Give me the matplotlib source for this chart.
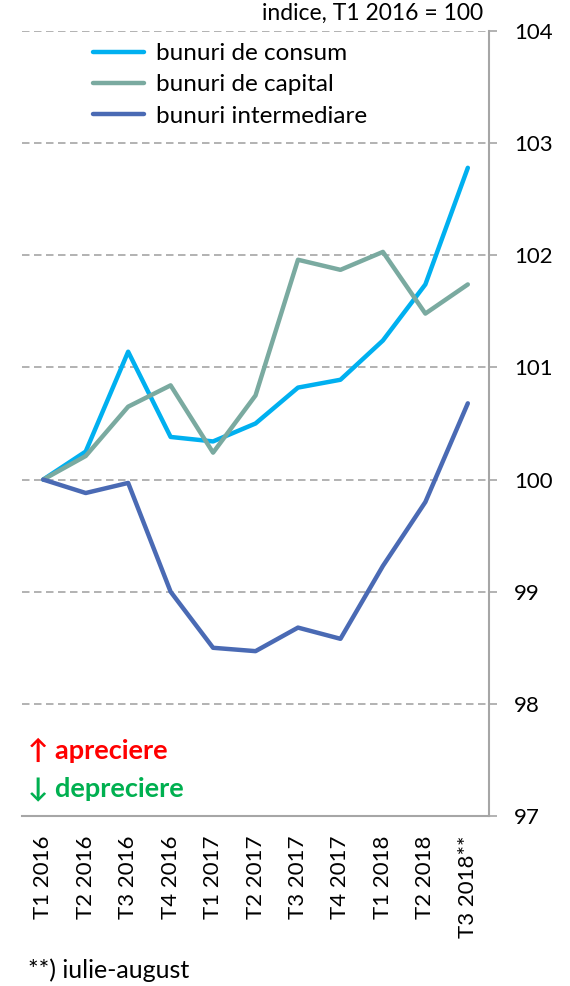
import numpy as np
import matplotlib.pyplot as plt

plt.rcParams['font.family'] = ['Lato', 'DejaVu Sans']

quarters = ['T1 2016', 'T2 2016', 'T3 2016', 'T4 2016', 'T1 2017', 'T2 2017',
            'T3 2017', 'T4 2017', 'T1 2018', 'T2 2018', 'T3 2018**']
consum = [100.0, 100.25, 101.14, 100.38, 100.34, 100.5, 100.82, 100.89, 101.24, 101.74, 102.78]
capital = [100.0, 100.21, 100.65, 100.84, 100.24, 100.75, 101.96, 101.87, 102.03, 101.48, 101.74]
intermediare = [100.0, 99.88, 99.97, 99.0, 98.5, 98.47, 98.68, 98.58, 99.23, 99.8, 100.68]

fig = plt.figure(figsize=(5.7, 9.86), dpi=100)
ax = fig.add_axes([0.0386, 0.1724, 0.8194, 0.7962])

x = np.arange(len(quarters))
ax.plot(x, consum, color='#00B0F0', lw=3.2, label='bunuri de consum', solid_capstyle='round')
ax.plot(x, capital, color='#7AAAA0', lw=3.2, label='bunuri de capital', solid_capstyle='round')
ax.plot(x, intermediare, color='#4A6AB4', lw=3.2, label='bunuri intermediare', solid_capstyle='round')

ax.set_xlim(-0.5, 10.5)
ax.set_ylim(97, 104)
ax.set_yticks(range(97, 105))
ax.yaxis.tick_right()
ax.grid(axis='y', color='#A6A6A6', ls=(0, (4.5, 2.7)), lw=1.2)
ax.set_axisbelow(True)
for s in ['left', 'top']:
    ax.spines[s].set_visible(False)
for s in ['right', 'bottom']:
    ax.spines[s].set_color('#A6A6A6')
    ax.spines[s].set_linewidth(1.5)
ax.tick_params(axis='y', length=6, color='#A6A6A6', width=1.2, labelsize=16, pad=12)
ax.tick_params(axis='x', length=0, labelsize=16, pad=14)
ax.set_xticks(x)
ax.set_xticklabels(quarters, rotation=90)

ax.legend(loc='upper left', bbox_to_anchor=(0.125, 1.0), frameon=False, fontsize=17.5,
          handlelength=2.1, handletextpad=0.5, labelspacing=0.42, borderaxespad=0.1)

fig.text(0.848, 0.986, 'indice, T1 2016 = 100', ha='right', va='center', fontsize=16.5)
fig.text(0.05, 0.239, '↑ apreciere', color='#FF0000', fontsize=19.5, fontweight='bold', va='center')
fig.text(0.05, 0.200, '↓ depreciere', color='#00B050', fontsize=19.5, fontweight='bold', va='center')
fig.text(0.05, 0.016, '**) iulie-august', fontsize=18, va='center')

fig.savefig('out.png', dpi=100)
